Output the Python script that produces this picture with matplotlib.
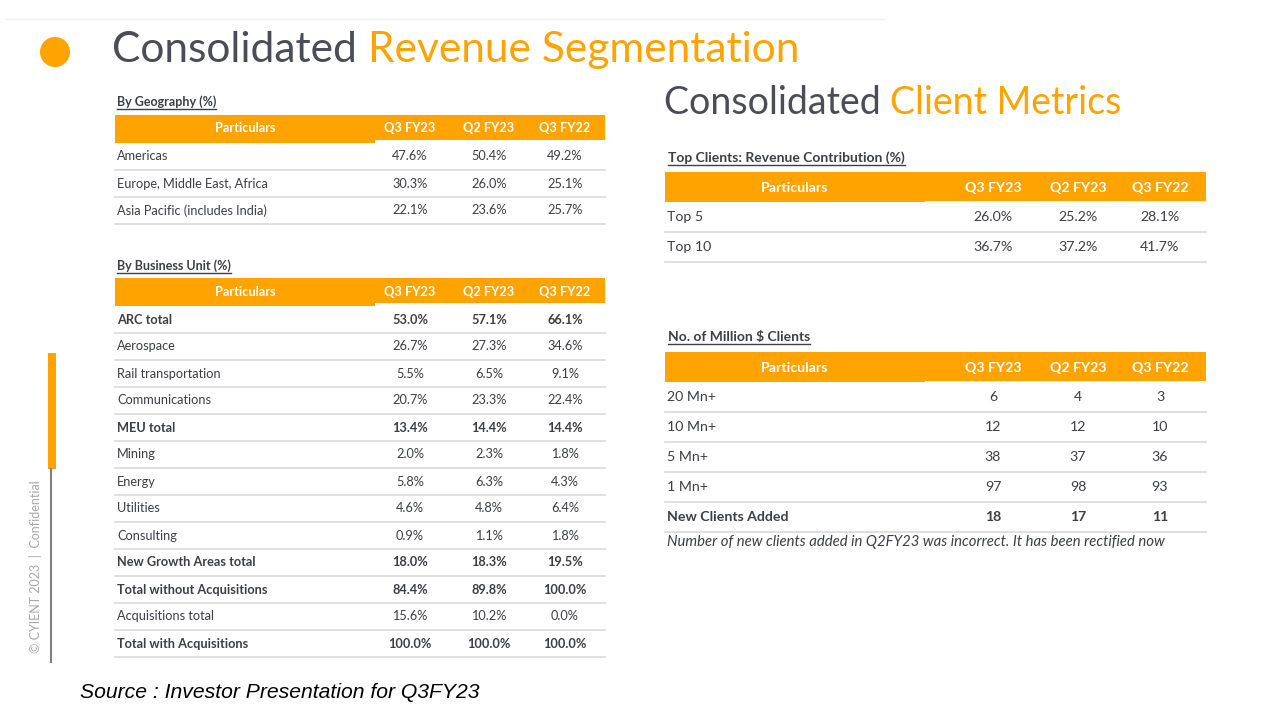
import matplotlib

matplotlib.use("Agg")
import matplotlib.pyplot as plt
from matplotlib.patches import Rectangle, Circle

plt.rcParams["font.family"] = ["Lato", "DejaVu Sans"]

ORANGE = "#FFA300"
DARK = "#3d3f45"
LINE = "#d9d9d9"

periods = ["Q3 FY23", "Q2 FY23", "Q3 FY22"]

geo_names = ["Americas", "Europe, Middle East, Africa", "Asia Pacific (includes India)"]
geo_q3fy23 = [47.6, 30.3, 22.1]
geo_q2fy23 = [50.4, 26.0, 23.6]
geo_q3fy22 = [49.2, 25.1, 25.7]

bu_names = ["ARC total", "Aerospace", "Rail transportation", "Communications",
            "MEU total", "Mining", "Energy", "Utilities", "Consulting",
            "New Growth Areas total", "Total without Acquisitions",
            "Acquisitions total", "Total with Acquisitions"]
bu_q3fy23 = [53.0, 26.7, 5.5, 20.7, 13.4, 2.0, 5.8, 4.6, 0.9, 18.0, 84.4, 15.6, 100.0]
bu_q2fy23 = [57.1, 27.3, 6.5, 23.3, 14.4, 2.3, 6.3, 4.8, 1.1, 18.3, 89.8, 10.2, 100.0]
bu_q3fy22 = [66.1, 34.6, 9.1, 22.4, 14.4, 1.8, 4.3, 6.4, 1.8, 19.5, 100.0, 0.0, 100.0]
bu_bold = ["ARC total", "MEU total", "New Growth Areas total",
           "Total without Acquisitions", "Total with Acquisitions"]

top_names = ["Top 5", "Top 10"]
top_q3fy23 = [26.0, 36.7]
top_q2fy23 = [25.2, 37.2]
top_q3fy22 = [28.1, 41.7]

mn_names = ["20 Mn+", "10 Mn+", "5 Mn+", "1 Mn+", "New Clients Added"]
mn_q3fy23 = [6, 12, 38, 97, 18]
mn_q2fy23 = [4, 12, 37, 98, 17]
mn_q3fy22 = [3, 10, 36, 93, 11]
mn_bold = ["New Clients Added"]

fig = plt.figure(figsize=(12.8, 7.2), dpi=100)
ax = fig.add_axes([0, 0, 1, 1])
ax.set_xlim(0, 1280)
ax.set_ylim(720, 0)
ax.set_axis_off()


def underlined(x, y, text, size=9.5):
    t = ax.text(x, y, text, fontsize=size, fontweight="bold", color=DARK,
                ha="left", va="center")
    fig.canvas.draw()
    bb = t.get_window_extent().transformed(ax.transData.inverted())
    ax.plot([bb.x0, bb.x1], [y + 7, y + 7], color=DARK, lw=1.0)


def draw_table(x0, x1, top, head_h, row_h, split, cols, names, columns, fmt,
               bold=(), size=9.5, notch=3):
    ax.add_patch(Rectangle((x0, top), split - x0, head_h + notch, color=ORANGE, lw=0))
    ax.add_patch(Rectangle((split, top), x1 - split, head_h, color=ORANGE, lw=0))
    ax.text((x0 + split) / 2, top + head_h / 2 + 1, "Particulars", color="white",
            fontsize=size, fontweight="bold", ha="center", va="center")
    for cx, p in zip(cols, periods):
        ax.text(cx, top + head_h / 2 + 1, p, color="white", fontsize=size,
                fontweight="bold", ha="center", va="center")
    y = top + head_h + notch
    for i, name in enumerate(names):
        yc = y + row_h * (i + 0.5)
        w = "bold" if name in bold else "normal"
        ax.text(x0 + 2, yc, name, color=DARK, fontsize=size, fontweight=w,
                ha="left", va="center")
        for cx, col in zip(cols, columns):
            ax.text(cx, yc, fmt(col[i]), color=DARK, fontsize=size,
                    fontweight=w, ha="center", va="center")
        ax.plot([x0, x1], [y + row_h * (i + 1)] * 2, color=LINE, lw=1.2)


pct = lambda v: f"{v:.1f}%"

# header line and titles
ax.plot([5, 885], [19, 19], color="#f0f0f0", lw=1)
ax.add_patch(Circle((55, 52), 15, color=ORANGE, lw=0))
t1 = ax.text(112, 50, "Consolidated ", fontsize=30.6, color="#4a4d55",
             ha="left", va="center")
fig.canvas.draw()
bb = t1.get_window_extent().transformed(ax.transData.inverted())
ax.text(bb.x1, 50, "Revenue Segmentation", fontsize=30.6, color=ORANGE,
        ha="left", va="center")

t2 = ax.text(664, 103, "Consolidated ", fontsize=27, color="#4a4d55",
             ha="left", va="center")
fig.canvas.draw()
bb = t2.get_window_extent().transformed(ax.transData.inverted())
ax.text(bb.x1, 103, "Client Metrics", fontsize=27, color=ORANGE,
        ha="left", va="center")

# left tables
left_cols = [410, 489, 565]
underlined(117, 102, "By Geography (%)", size=9)
draw_table(115, 605, 115, 25, 27, 375, left_cols, geo_names,
           [geo_q3fy23, geo_q2fy23, geo_q3fy22], pct, size=9.2)

underlined(117, 266, "By Business Unit (%)", size=9)
draw_table(115, 605, 278, 25, 27, 375, left_cols, bu_names,
           [bu_q3fy23, bu_q2fy23, bu_q3fy22], pct, bold=bu_bold, size=9.2)

# right tables
right_cols = [993, 1078, 1160]
underlined(668, 158, "Top Clients: Revenue Contribution (%)", size=10)
draw_table(665, 1206, 172, 29, 30, 925, right_cols, top_names,
           [top_q3fy23, top_q2fy23, top_q3fy22], pct, size=10.2, notch=1)

underlined(668, 337, "No. of Million $ Clients", size=10)
draw_table(665, 1206, 352, 29, 30, 925, right_cols, mn_names,
           [mn_q3fy23, mn_q2fy23, mn_q3fy22], str, bold=mn_bold, size=10.2,
           notch=1)

ax.text(667, 542, "Number of new clients added in Q2FY23 was incorrect. It has been rectified now",
        fontsize=10.7, style="italic", color=DARK, ha="left", va="center")

# side decoration
ax.plot([51, 51], [469, 662], color="#808080", lw=1.5)
ax.add_patch(Rectangle((48, 353), 8, 116, color=ORANGE, lw=0))
ax.text(36, 567, "© CYIENT 2023  |  Confidential", rotation=90, fontsize=9,
        color="#a8a8a8", ha="center", va="center")

ax.text(80, 693, "Source : Investor Presentation for Q3FY23", fontsize=15.2,
        style="italic", color="black", ha="left", va="center",
        family=["Liberation Sans", "DejaVu Sans"])

fig.savefig("out.png", dpi=100)
